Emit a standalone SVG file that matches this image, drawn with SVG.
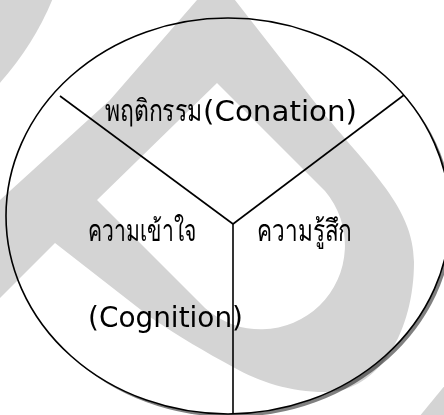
<svg xmlns="http://www.w3.org/2000/svg" width="444" height="415" viewBox="0 0 444 415">
<style>
.wm{fill:#d4d4d4;mix-blend-mode:multiply}
.ln{stroke:#000;stroke-width:1.6;fill:none}
.th{font-family:"Liberation Serif","Noto Serif",serif;font-size:30px;fill:#000}
.en{font-family:"DejaVu Sans",sans-serif;font-size:28px;fill:#000}
</style>
<rect width="444" height="415" fill="#fff"/>
<g id="circle-fill">
<ellipse cx="231" cy="219" rx="222" ry="198" fill="#808080"/>
<ellipse cx="228" cy="216" rx="222" ry="198" fill="#fff"/>
</g>
<g id="watermark" class="wm">
<path d="M-2,-2 L53,-2 Q34,45 -2,85 Z"/>
<path fill-rule="evenodd" d="M217,-23 L313,100 C365,166 414,205 414,262 C414,330 380,392 325,392 C290,392 260,382 233,367 C205,352 180,337 150,317 L55,243 L-2,300 L-2,200 L0,200 L110,100 Z M217,83 L325,191 A84,84 0 0 1 205,308 L97,200 Z"/>
<path d="M446,384 L446,417 L419,417 Z"/>
</g>
<g id="circle">
<ellipse cx="228" cy="216" rx="222" ry="198" class="ln"/>
</g>
<g id="connectors">
<line x1="60" y1="96" x2="233" y2="224" class="ln"/>
<line x1="404" y1="95" x2="233" y2="224" class="ln"/>
<line x1="233" y1="224" x2="233" y2="414" class="ln"/>
</g>
<g id="conation">
<text x="105" y="121" class="th"><tspan textLength="97" lengthAdjust="spacingAndGlyphs">พฤติกรรม</tspan><tspan x="203" class="en" textLength="154" lengthAdjust="spacingAndGlyphs">(Conation)</tspan></text>
</g>
<g id="cognition">
<text x="88" y="241" class="th" textLength="109" lengthAdjust="spacingAndGlyphs">ความเข้าใจ</text>
<text x="88" y="327" class="en" textLength="155" lengthAdjust="spacingAndGlyphs">(Cognition)</text>
</g>
<g id="affect">
<text x="257" y="241" class="th" textLength="95" lengthAdjust="spacingAndGlyphs">ความรู้สึก</text>
</g>
</svg>
